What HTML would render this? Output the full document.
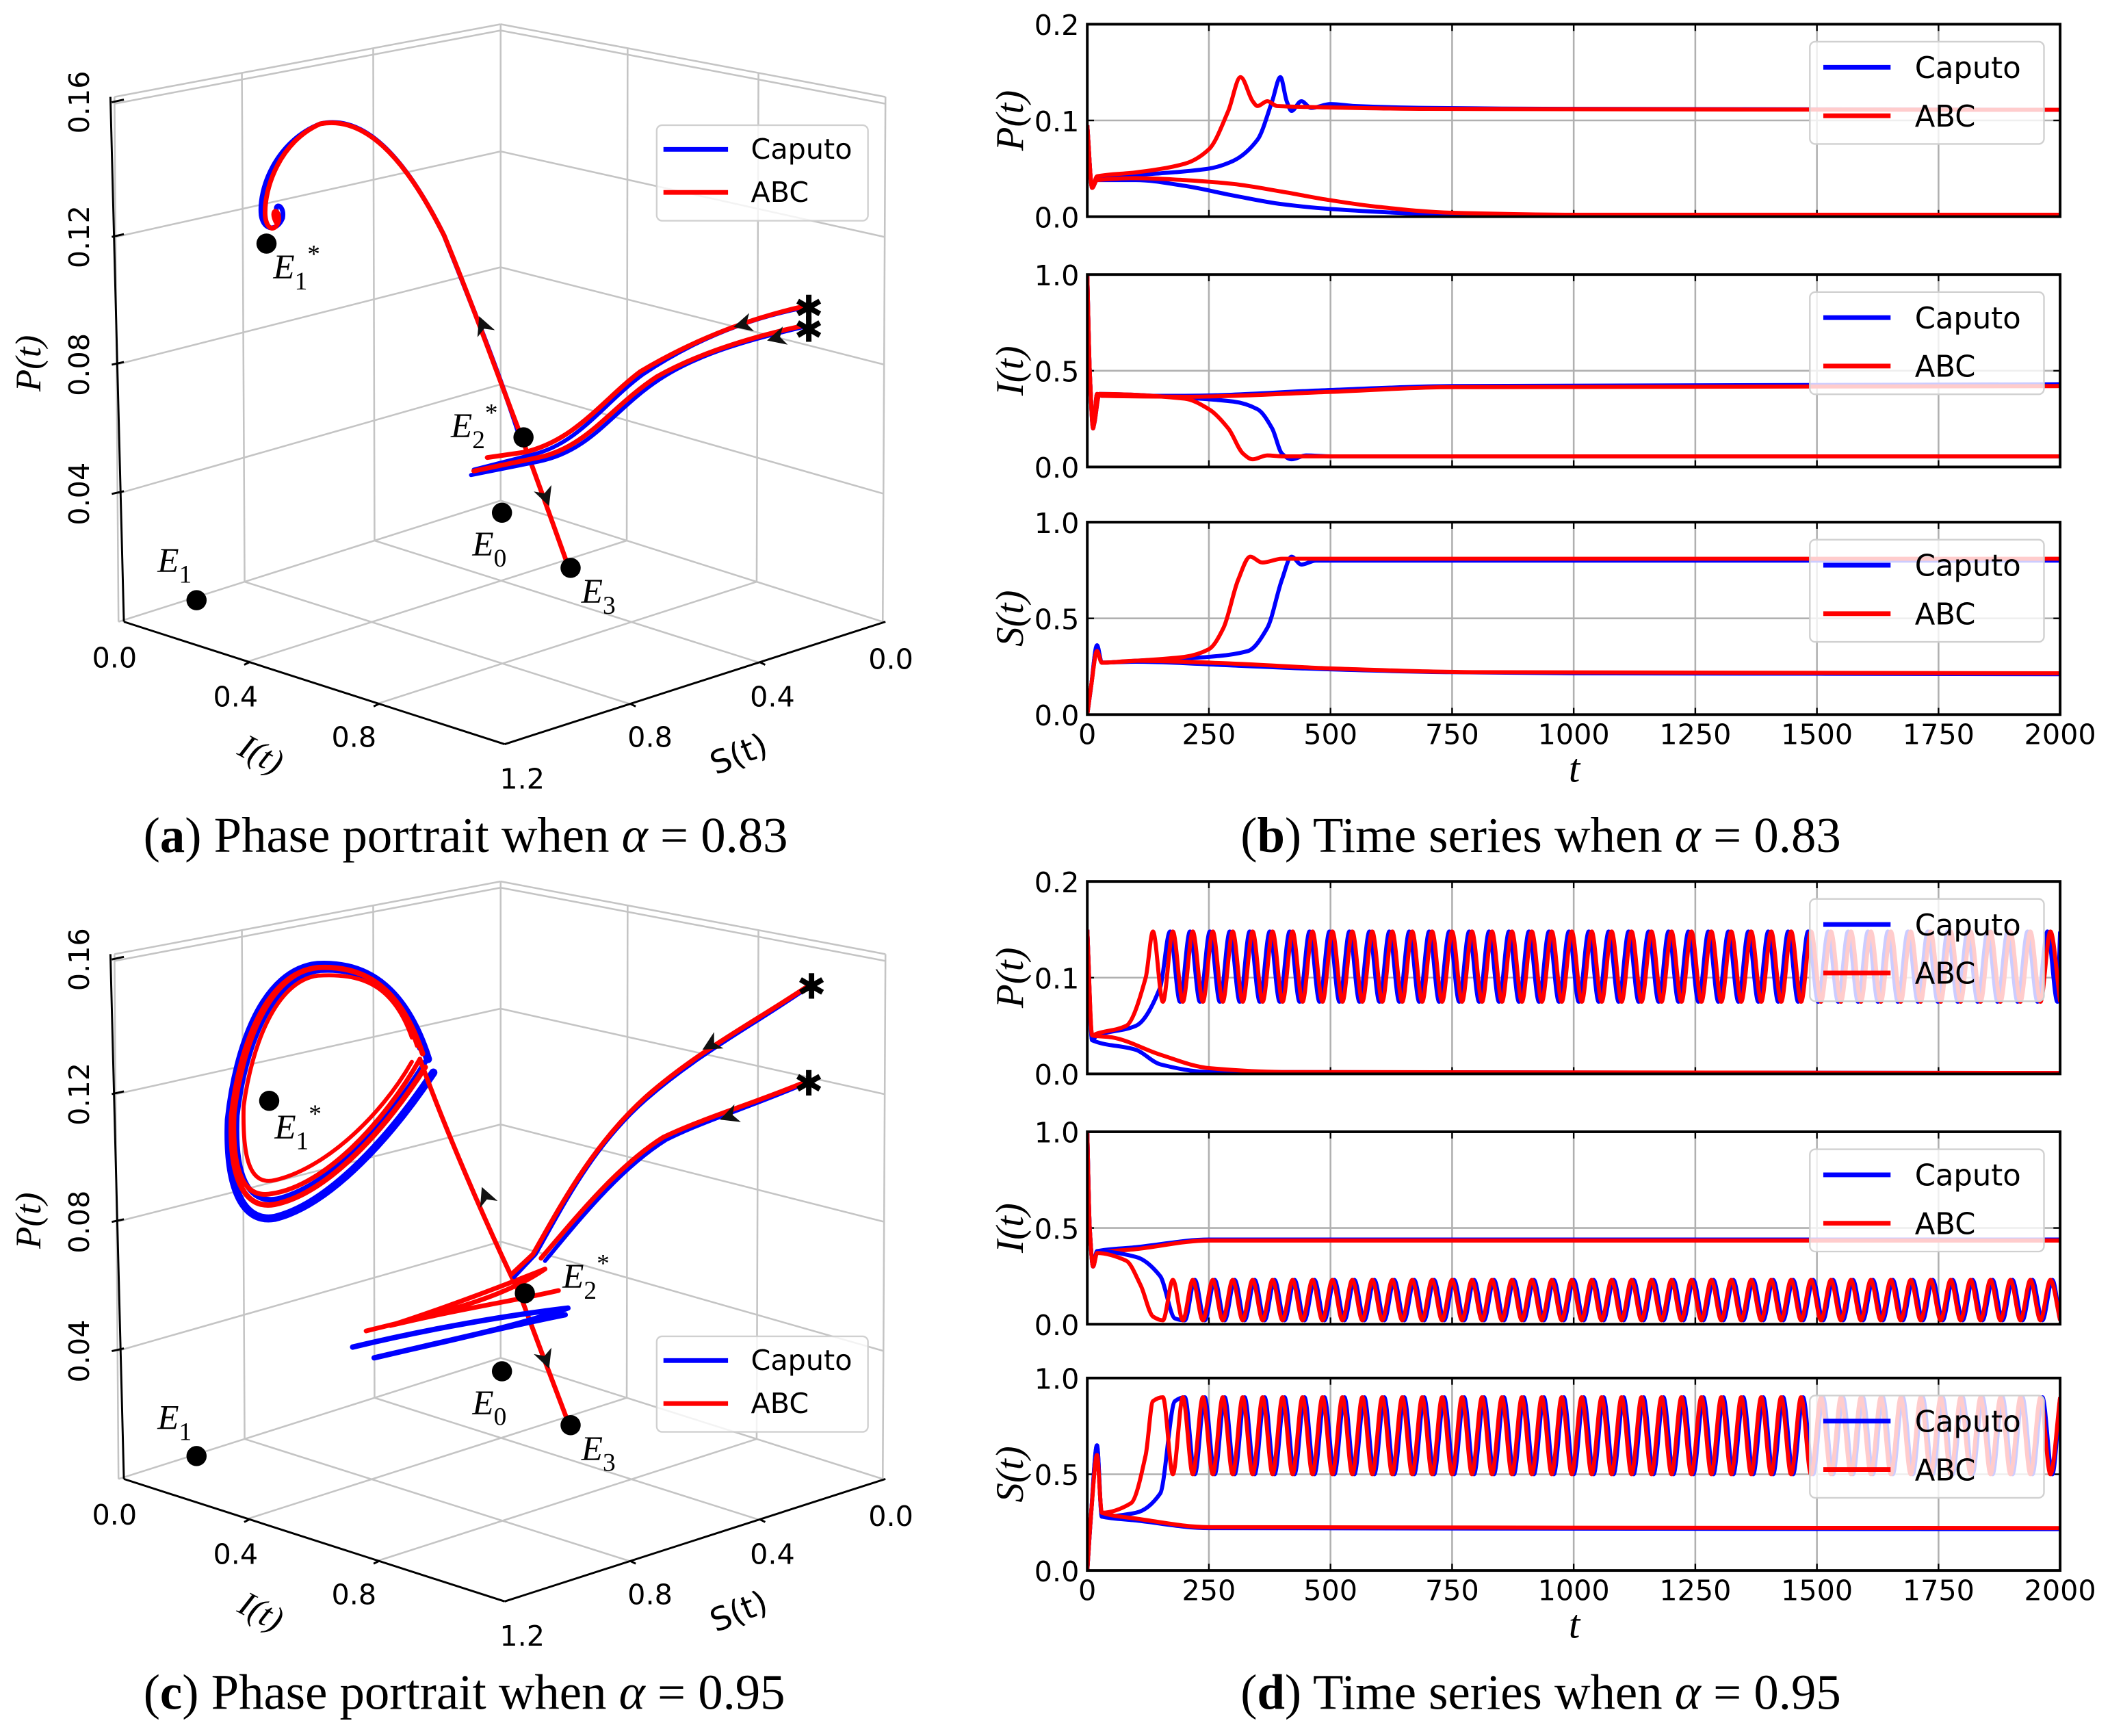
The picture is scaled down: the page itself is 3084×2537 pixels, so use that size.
<!DOCTYPE html>
<html><head><meta charset="utf-8"><style>
html,body{margin:0;padding:0;background:#fff;}
svg{display:block;}
text{font-family:"DejaVu Sans","Liberation Sans",sans-serif;}
.serif{font-family:"Liberation Serif","DejaVu Serif",serif;}
</style></head><body>
<svg id="fig" xmlns="http://www.w3.org/2000/svg" width="3084" height="2537" viewBox="0 0 1568 1290">
<rect width="1568" height="1290" fill="#fff"/>
<g id="g3d"></g>
<g id="gts"></g>
<text class="serif" x="346" y="633" font-size="37" text-anchor="middle">(<tspan font-weight="bold">a</tspan>) Phase portrait when <tspan font-style="italic">α</tspan> = 0.83</text>
<text class="serif" x="1145" y="633" font-size="37" text-anchor="middle">(<tspan font-weight="bold">b</tspan>) Time series when <tspan font-style="italic">α</tspan> = 0.83</text>
<text class="serif" x="345" y="1270" font-size="37" text-anchor="middle">(<tspan font-weight="bold">c</tspan>) Phase portrait when <tspan font-style="italic">α</tspan> = 0.95</text>
<text class="serif" x="1145" y="1270" font-size="37" text-anchor="middle">(<tspan font-weight="bold">d</tspan>) Time series when <tspan font-style="italic">α</tspan> = 0.95</text>
</svg>
<script>
const NS="http://www.w3.org/2000/svg";
// ===== time-series data (panel b, alpha=0.83) =====
const bP_capU_t=[0,10,20,50,150,250,300,350,380,397,410,420,440,460,500,550,700,1000,2000];
const bP_capU_v=[0.095,0.03,0.04,0.042,0.045,0.05,0.058,0.08,0.12,0.145,0.12,0.11,0.12,0.113,0.117,0.115,0.113,0.112,0.111];
const bP_abcU_t=[0,10,20,100,200,250,290,315,340,350,370,390,450,700,2000];
const bP_abcU_v=[0.095,0.03,0.042,0.046,0.055,0.07,0.11,0.145,0.12,0.115,0.12,0.115,0.114,0.112,0.111];
const bP_capL_t=[0,10,20,100,200,300,400,500,700,1000,2000];
const bP_capL_v=[0.095,0.03,0.038,0.038,0.032,0.022,0.013,0.008,0.003,0.001,0.001];
const bP_abcL_t=[0,10,20,100,200,300,400,500,600,750,1000,2000];
const bP_abcL_v=[0.095,0.03,0.038,0.04,0.038,0.034,0.026,0.017,0.01,0.004,0.002,0.002];
const bI_capU_t=[0,5,12,20,30,200,500,750,2000];
const bI_capU_v=[1.0,0.5,0.2,0.38,0.37,0.37,0.4,0.42,0.43];
const bI_abcU_t=[0,5,12,20,30,200,500,750,2000];
const bI_abcU_v=[1.0,0.5,0.2,0.38,0.37,0.365,0.39,0.415,0.42];
const bI_capL_t=[0,5,12,25,200,300,350,380,400,420,450,500,2000];
const bI_capL_v=[1,0.5,0.21,0.38,0.36,0.34,0.3,0.2,0.07,0.04,0.06,0.055,0.055];
const bI_abcL_t=[0,5,12,25,200,250,290,320,340,370,400,2000];
const bI_abcL_v=[1,0.5,0.21,0.38,0.355,0.3,0.2,0.07,0.04,0.06,0.055,0.055];
const bS_capU_t=[0,8,20,30,100,250,330,370,400,420,440,470,2000];
const bS_capU_v=[0,0.15,0.36,0.27,0.28,0.3,0.33,0.45,0.7,0.82,0.78,0.8,0.8];
const bS_abcU_t=[0,8,20,30,100,200,250,280,310,335,360,400,2000];
const bS_abcU_v=[0,0.15,0.33,0.27,0.28,0.3,0.34,0.45,0.7,0.82,0.79,0.81,0.81];
const bS_capL_t=[0,8,20,30,100,300,500,750,1000,2000];
const bS_capL_v=[0,0.15,0.36,0.27,0.275,0.255,0.235,0.22,0.215,0.21];
const bS_abcL_t=[0,8,20,30,100,300,500,800,2000];
const bS_abcL_v=[0,0.15,0.33,0.27,0.28,0.265,0.24,0.22,0.215];
// ===== time-series data (panel d, alpha=0.95) =====
const dP_capL_t=[0,10,100,150,250,2000];
const dP_capL_v=[0.15,0.035,0.025,0.01,0.002,0.001];
const dP_abcL_t=[0,10,50,150,250,400,2000];
const dP_abcL_v=[0.15,0.04,0.038,0.02,0.006,0.002,0.001];
const dP_capO_t=[0,10,20,100,150,170];
const dP_capO_v=[0.15,0.035,0.04,0.05,0.09,0.148];
const dP_abcO_t=[0,10,20,80,120,135];
const dP_abcO_v=[0.15,0.04,0.042,0.05,0.1,0.148];
const dP_osc=[0.148,0.075];
const dI_capU_t=[0,5,12,20,100,250,2000];
const dI_capU_v=[1,0.5,0.3,0.38,0.4,0.44,0.44];
const dI_abcU_t=[0,5,12,20,100,250,2000];
const dI_abcU_v=[1,0.5,0.3,0.37,0.39,0.435,0.435];
const dI_capO_t=[0,5,12,20,100,150,180];
const dI_capO_v=[1,0.5,0.3,0.38,0.35,0.25,0.03];
const dI_abcO_t=[0,5,12,20,80,110,135];
const dI_abcO_v=[1,0.5,0.3,0.37,0.33,0.2,0.04];
const dI_osc=[0.23,0.02];
const dS_capL_t=[0,8,20,30,100,250,2000];
const dS_capL_v=[0,0.3,0.65,0.28,0.26,0.22,0.215];
const dS_abcL_t=[0,8,20,30,100,250,2000];
const dS_abcL_v=[0,0.3,0.6,0.3,0.27,0.225,0.22];
const dS_capO_t=[0,8,20,30,100,150,180];
const dS_capO_v=[0,0.3,0.65,0.28,0.3,0.4,0.88];
const dS_abcO_t=[0,8,20,30,90,120,135];
const dS_abcO_v=[0,0.3,0.6,0.3,0.35,0.6,0.88];
const dS_osc=[0.9,0.5];
const oscPeriod=[41,41];
const xTicks=[0,250,500,750,1000,1250,1500,1750,2000];
const tsPanels=[
 {top:18,max:0.2,ticks:["0.0","0.1","0.2"],lab:"P",id:"b-p",x:false},
 {top:204,max:1,ticks:["0.0","0.5","1.0"],lab:"I",id:"b-i",x:false},
 {top:388,max:1,ticks:["0.0","0.5","1.0"],lab:"S",id:"b-s",x:true},
 {top:655,max:0.2,ticks:["0.0","0.1","0.2"],lab:"P",id:"d-p",x:false},
 {top:841,max:1,ticks:["0.0","0.5","1.0"],lab:"I",id:"d-i",x:false},
 {top:1024,max:1,ticks:["0.0","0.5","1.0"],lab:"S",id:"d-s",x:true}];
const X0=808,X1=1531,H=143;
function el(tag,attrs,parent){const e=document.createElementNS(NS,tag);for(const k in attrs)e.setAttribute(k,attrs[k]);parent.appendChild(e);return e;}
const gts=document.getElementById('gts');
function xs(t){return X0+(t/2000)*(X1-X0);}
function oscPts(t,v,hi,lo,per){const pts=t.map((a,i)=>[a,v[i]]);let tt=t[t.length-1];let up=false;
 while(tt<2000){tt+=per/2;pts.push([Math.min(tt,2000),up?hi:lo]);up=!up;}return pts;}
// monotone cubic interpolation in x (no backtracking / overshoot)
function smooth(P){const n=P.length;const sl=[];
 for(let i=0;i<n-1;i++){const dx=P[i+1][0]-P[i][0];sl.push(dx>0?(P[i+1][1]-P[i][1])/dx:0);}
 const m=P.map((p,i)=>{if(i==0)return sl[0];if(i==n-1)return sl[n-2];
   if(sl[i-1]*sl[i]<=0)return 0;return 2/(1/sl[i-1]+1/sl[i]);});
 let d='M'+P[0][0].toFixed(1)+' '+P[0][1].toFixed(1);
 for(let i=0;i<n-1;i++){const dx=P[i+1][0]-P[i][0];
  d+=`C${(P[i][0]+dx/3).toFixed(1)} ${(P[i][1]+m[i]*dx/3).toFixed(1)} ${(P[i+1][0]-dx/3).toFixed(1)} ${(P[i+1][1]-m[i+1]*dx/3).toFixed(1)} ${P[i+1][0].toFixed(1)} ${P[i+1][1].toFixed(1)}`;}
 return d;}
function drawPanel(p,series){
 const g=el('g',{},gts);
 
 
 const ys=v=>p.top+H-(v/p.max)*H;
 xTicks.forEach(t=>{const l=el('line',{x1:xs(t),x2:xs(t),y1:p.top,y2:p.top+H,stroke:'#b0b0b0','stroke-width':1.3},g);
  });
 el('line',{x1:X0,x2:X1,y1:ys(p.max/2),y2:ys(p.max/2),stroke:'#b0b0b0','stroke-width':1.3},g);
 xTicks.forEach(t=>{el('line',{x1:xs(t),x2:xs(t),y1:p.top+H,y2:p.top+H-5,stroke:'#000','stroke-width':1.2},g);
   el('line',{x1:xs(t),x2:xs(t),y1:p.top,y2:p.top+5,stroke:'#000','stroke-width':1.2},g);
   if(p.x){const tx=el('text',{x:xs(t),y:p.top+H+22,'font-size':21,'text-anchor':'middle'},g);tx.textContent=t;
     }});
 p.ticks.forEach((s,i)=>{const y=p.top+H-i*H/2;
   el('line',{x1:X0,x2:X0+5,y1:y,y2:y,stroke:'#000','stroke-width':1.2},g);
   el('line',{x1:X1,x2:X1-5,y1:y,y2:y,stroke:'#000','stroke-width':1.2},g);
   const tx=el('text',{x:X0-6,y:y+8,'font-size':21,'text-anchor':'end'},g);tx.textContent=s;
   });
 const clip=el('clipPath',{id:'clip-'+p.id},g);el('rect',{x:X0,y:p.top-3,width:X1-X0,height:H+3},clip);
 series.forEach(s=>{const d=smooth(s.pts.map(q=>[xs(q[0]),ys(q[1])]));
   const path=el('path',{d:d,fill:'none',stroke:s.c,'stroke-width':3,'stroke-linejoin':'round','clip-path':`url(#clip-${p.id})`},g);
   });
 el('rect',{x:X0,y:p.top,width:X1-X0,height:H,fill:'none',stroke:'#000','stroke-width':2},g);
 const yl=el('text',{class:'serif',x:0,y:0,'font-size':29,'font-style':'italic','text-anchor':'middle',transform:`translate(760 ${p.top+H/2}) rotate(-90)`},g);
 yl.textContent=p.lab+'(t)';
 
 const lg=el('g',{},g);
 
 el('rect',{x:1345,y:p.top+13,width:174,height:76,rx:4,fill:'#fff','fill-opacity':0.8,stroke:'#d0d0d0','stroke-width':1.2},lg);
 [['#0000ff','Caputo',32],['#ff0000','ABC',68]].forEach(e=>{
   el('line',{x1:1355,x2:1405,y1:p.top+e[2],y2:p.top+e[2],stroke:e[0],'stroke-width':3.5},lg);
   const t=el('text',{x:1423,y:p.top+e[2]+8,'font-size':22},lg);t.textContent=e[1];
   });
 if(p.x){const t=el('text',{class:'serif',x:1170,y:p.top+H+50,'font-size':30,'font-style':'italic','text-anchor':'middle'},g);t.textContent='t';
   }
}
const Z=(t,v)=>t.map((a,i)=>[a,v[i]]);
drawPanel(tsPanels[0],[{c:'#0000ff',n:'caputo-p-upper',pts:Z(bP_capU_t,bP_capU_v)},{c:'#0000ff',n:'caputo-p-lower',pts:Z(bP_capL_t,bP_capL_v)},{c:'#ff0000',n:'abc-p-lower',pts:Z(bP_abcL_t,bP_abcL_v)},{c:'#ff0000',n:'abc-p-upper',pts:Z(bP_abcU_t,bP_abcU_v)}]);
drawPanel(tsPanels[1],[{c:'#0000ff',n:'caputo-i-upper',pts:Z(bI_capU_t,bI_capU_v)},{c:'#0000ff',n:'caputo-i-lower',pts:Z(bI_capL_t,bI_capL_v)},{c:'#ff0000',n:'abc-i-lower',pts:Z(bI_abcL_t,bI_abcL_v)},{c:'#ff0000',n:'abc-i-upper',pts:Z(bI_abcU_t,bI_abcU_v)}]);
drawPanel(tsPanels[2],[{c:'#0000ff',n:'caputo-s-upper',pts:Z(bS_capU_t,bS_capU_v)},{c:'#0000ff',n:'caputo-s-lower',pts:Z(bS_capL_t,bS_capL_v)},{c:'#ff0000',n:'abc-s-lower',pts:Z(bS_abcL_t,bS_abcL_v)},{c:'#ff0000',n:'abc-s-upper',pts:Z(bS_abcU_t,bS_abcU_v)}]);
drawPanel(tsPanels[3],[{c:'#0000ff',n:'caputo-p-osc',pts:oscPts(dP_capO_t,dP_capO_v,dP_osc[0],dP_osc[1],oscPeriod[0])},{c:'#ff0000',n:'abc-p-osc',pts:oscPts(dP_abcO_t,dP_abcO_v,dP_osc[0],dP_osc[1],oscPeriod[1])},{c:'#0000ff',n:'caputo-p-lower',pts:Z(dP_capL_t,dP_capL_v)},{c:'#ff0000',n:'abc-p-lower',pts:Z(dP_abcL_t,dP_abcL_v)}]);
drawPanel(tsPanels[4],[{c:'#0000ff',n:'caputo-i-upper',pts:Z(dI_capU_t,dI_capU_v)},{c:'#ff0000',n:'abc-i-upper',pts:Z(dI_abcU_t,dI_abcU_v)},{c:'#0000ff',n:'caputo-i-osc',pts:oscPts(dI_capO_t,dI_capO_v,dI_osc[0],dI_osc[1],oscPeriod[0])},{c:'#ff0000',n:'abc-i-osc',pts:oscPts(dI_abcO_t,dI_abcO_v,dI_osc[0],dI_osc[1],oscPeriod[1])}]);
drawPanel(tsPanels[5],[{c:'#0000ff',n:'caputo-s-osc',pts:oscPts(dS_capO_t,dS_capO_v,dS_osc[1],dS_osc[0],oscPeriod[0])},{c:'#ff0000',n:'abc-s-osc',pts:oscPts(dS_abcO_t,dS_abcO_v,dS_osc[1],dS_osc[0],oscPeriod[1])},{c:'#0000ff',n:'caputo-s-lower',pts:Z(dS_capL_t,dS_capL_v)},{c:'#ff0000',n:'abc-s-lower',pts:Z(dS_abcL_t,dS_abcL_v)}]);

// ===== 3D phase portraits =====
const g3=document.getElementById('g3d');
function phase(dy,id,curves,pts,labels,arrows,stars,legY){
 const g=el('g',{transform:`translate(0 ${dy})`},g3);
 
 
 const gr='#c4c4c4';
 const L=[88,462],B=[372,372],R=[656,462],F=[375,553];
 const Lt=[85,72],Bt=[372,18],Rt=[658,72];
 const ln=(a,b,c,w)=>el('line',{x1:a[0],y1:a[1],x2:b[0],y2:b[1],stroke:c,'stroke-width':w},g);
 const mix=(a,b,f)=>[a[0]+(b[0]-a[0])*f,a[1]+(b[1]-a[1])*f];
 ln(L,Lt,gr,1.3);ln(B,Bt,gr,1.3);ln(R,Rt,gr,1.3);ln(Lt,Bt,gr,1.3);ln(Bt,Rt,gr,1.3);ln(L,B,gr,1.3);ln(B,R,gr,1.3);
 [0.33,0.67].forEach(f=>{ln(mix(L,B,f),mix(Lt,Bt,f),gr,1.3);ln(mix(B,R,f),mix(Bt,Rt,f),gr,1.3);
   ln(mix(L,F,f),mix(B,R,f),gr,1.3);ln(mix(R,F,f),mix(B,L,f),gr,1.3);});
 [0.244,0.49,0.733,0.987].forEach(f=>{ln(mix(L,Lt,f),mix(B,Bt,f),gr,1.3);ln(mix(B,Bt,f),mix(R,Rt,f),gr,1.3);});
 ln([82,72],[92,462],'#000',1.5);ln([92,462],[375,553],'#000',1.5);ln([375,553],[658,462],'#000',1.5);
 [[76,'0.16'],[176,'0.12'],[271,'0.08'],[367,'0.04']].forEach(t=>{ln([83,t[0]],[92,t[0]-2],'#000',1.5);
   const tx=el('text',{x:0,y:0,'font-size':21,'text-anchor':'middle',transform:`translate(66 ${t[0]}) rotate(-90)`},g);tx.textContent=t[1];
   });
 [[[85,496],'0.0'],[[175,525],'0.4'],[[263,555],'0.8'],[[388,586],'1.2'],[[662,497],'0.0'],[[574,525],'0.4'],[[483,555],'0.8']].forEach(t=>{
   const tx=el('text',{x:t[0][0],y:t[0][1],'font-size':21,'text-anchor':'middle'},g);tx.textContent=t[1];
   });
 [0.33,0.67].forEach(f=>{const a=mix([92,462],[375,553],f);ln(a,[a[0]-4,a[1]+2],'#000',1.5);const b=mix([658,462],[375,553],f);ln(b,[b[0]+4,b[1]+2],'#000',1.5);});
 const yl=el('text',{class:'serif',x:0,y:0,'font-size':27,'font-style':'italic','text-anchor':'middle',transform:'translate(30 270) rotate(-90)'},g);yl.textContent='P(t)';
 
 const il=el('text',{class:'serif',x:0,y:0,'font-size':26,'font-style':'italic','text-anchor':'middle',transform:'translate(190 568) rotate(28)'},g);il.textContent='I(t)';
 
 const sl=el('text',{x:0,y:0,'font-size':24,'text-anchor':'middle',transform:'translate(552 568) rotate(-22)'},g);sl.textContent='S(t)';
 
 curves.forEach(c=>{const p=el('path',{d:c[1],fill:'none',stroke:c[0],'stroke-width':c[2]||3.5,'stroke-linecap':'round','stroke-linejoin':'round'},g);
   });
 arrows.forEach(a=>{const p=el('path',{d:'M0 0 L-14 -7 L-10 0 L-14 7 Z',fill:'#111',transform:`translate(${a[0]} ${a[1]}) rotate(${a[2]})`},g);
   });
 stars.forEach(s=>{const t=el('text',{x:s[0],y:s[1]+11,'font-size':26,'font-weight':'bold','text-anchor':'middle'},g);t.textContent='✱';
   });
 pts.forEach(p=>{const c=el('circle',{cx:p[0],cy:p[1],r:7.5,fill:'#000'},g);});
 labels.forEach(l=>{const t=el('text',{class:'serif',x:l[0],y:l[1],'font-size':26,'font-style':'italic'},g);
   t.innerHTML=l[2];});
 const lg=el('g',{},g);
 el('rect',{x:488,y:legY,width:157,height:71,rx:4,fill:'#fff','fill-opacity':0.8,stroke:'#d0d0d0','stroke-width':1.2},lg);
 [['#0000ff','Caputo',18],['#ff0000','ABC',50]].forEach(e=>{el('line',{x1:493,x2:541,y1:legY+e[2],y2:legY+e[2],stroke:e[0],'stroke-width':3.5},lg);
   const t=el('text',{x:558,y:legY+e[2]+7,'font-size':21},lg);t.textContent=e[1];});
}
const E=(b,s)=>`<tspan>E</tspan><tspan font-style="normal" font-size="19" dy="8">${b}</tspan>`+(s?`<tspan font-style="normal" font-size="19" dy="-20">*</tspan>`:'');
phase(0,'a',[
 ['#0000ff','M208 162 C200 150 212 150 210 162 C206 172 196 172 194 160 C192 140 205 105 238 92 C270 85 300 115 330 175 C350 225 372 280 386 324','3.5','caputo-arc'],
 ['#ff0000','M205 165 C200 155 208 154 207 164 C205 172 198 172 197 160 C196 140 208 105 238 92 C270 86 300 115 330 175 C352 228 372 285 388 326 L404 370 L423 423','3.5','abc-arc'],
 ['#0000ff','M596 229 C560 236 520 250 478 278 C448 300 430 330 395 338 L352 349','3','caputo-upper-s'],
 ['#0000ff','M597 243 C560 252 520 262 490 282 C455 305 440 335 400 343 L350 353','3','caputo-lower-s'],
 ['#ff0000','M596 228 C560 236 520 250 476 276 C448 297 428 327 390 336 L362 340','3.5','abc-upper-s'],
 ['#ff0000','M597 242 C560 250 520 262 488 280 C453 303 437 332 400 340 L352 350','3.5','abc-lower-s']],
 [[198,181],[389,325],[373,381],[424,422],[146,446]],
 [[203,207,E(1,1)],[335,325,E(2,1)],[351,413,E(0)],[432,448,E(3)],[117,425,E(1)]],
 [[356,235,-112],[408,376,70],[545,243,165],[570,253,165]],
 [[601,227],[601,243]],93);
phase(637,'c',[
 ['#0000ff','M318 150 C302 100 275 78 236 80 C196 84 176 140 170 195 C168 245 180 272 204 268 C246 258 292 205 322 160','6','caputo-limit-cycle'],
 ['#0000ff','M312 142 C298 98 272 82 238 84 C202 88 182 140 176 192 C174 236 184 258 206 254 C246 244 288 198 316 152','4','caputo-limit-cycle-2'],
 ['#ff0000','M314 146 C298 98 272 80 236 82 C198 86 178 140 172 192 C170 240 182 262 204 258 C244 250 288 200 316 156','4','abc-limit-cycle'],
 ['#ff0000','M310 140 C296 96 270 80 236 82 C200 86 180 140 174 190 C172 236 182 254 202 250 C242 244 286 196 312 150','3.5','abc-limit-cycle-2'],
 ['#ff0000','M306 134 C292 94 268 86 236 88 C205 92 187 140 181 185 C180 225 186 244 204 240 C240 232 282 194 306 152','3','abc-limit-cycle-3'],
 ['#ff0000','M312 150 C330 200 360 270 386 324 L404 372 L423 422','3.5','abc-trajectory'],
 ['#0000ff','M262 364 C320 350 380 340 422 335 C380 350 320 362 278 372 C330 360 380 348 420 340','4','caputo-low-loops'],
 ['#ff0000','M272 352 C320 340 370 330 405 306 C370 320 330 335 290 348 C340 336 380 330 415 322','3.5','abc-low-loops'],
 ['#0000ff','M603 95 C560 125 520 145 480 180 C440 215 418 260 398 295 L382 312','3','caputo-upper-s'],
 ['#ff0000','M603 94 C560 123 520 143 480 178 C440 214 416 260 396 295 L380 310','3.5','abc-upper-s'],
 ['#0000ff','M601 167 C560 185 525 195 495 210 C460 232 430 270 405 300','3','caputo-lower-s'],
 ['#ff0000','M601 166 C560 183 525 193 493 208 C458 230 428 268 402 298','3.5','abc-lower-s']],
 [[200,181],[390,324],[373,382],[424,422],[146,445]],
 [[204,209,E(1,1)],[418,320,E(2,1)],[351,414,E(0)],[432,448,E(3)],[117,425,E(1)]],
 [[358,245,-112],[408,380,70],[522,143,150],[535,195,160]],
 [[603,94],[601,166]],356);
</script>
</body></html>
